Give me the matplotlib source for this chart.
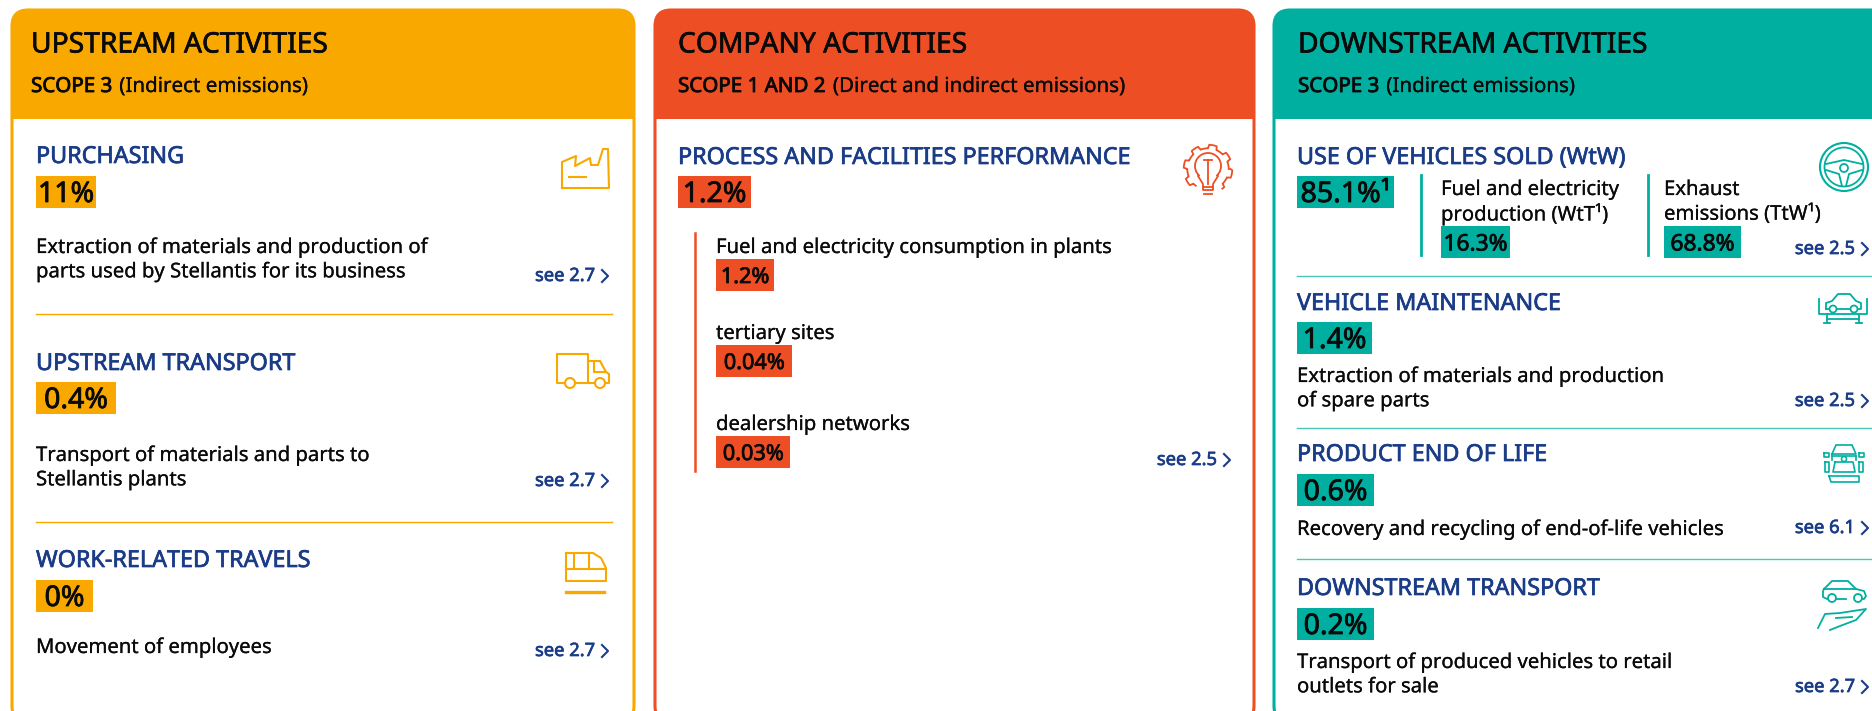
import numpy as np
import matplotlib
matplotlib.use('Agg')
import matplotlib.pyplot as plt
import matplotlib.patheffects as pe
from matplotlib.patches import FancyBboxPatch, Rectangle, Circle, Arc

plt.rcParams['font.family'] = ['Noto Sans', 'DejaVu Sans']

ORANGE = '#F9A800'
RED = '#EE4E24'
TEAL = '#00AFA0'
NAVY = '#1A3C87'
INK = '#0A0A0A'

# text and values
panel_titles = ['UPSTREAM ACTIVITIES', 'COMPANY ACTIVITIES', 'DOWNSTREAM ACTIVITIES']
scope_bold = ['SCOPE 3', 'SCOPE 1 AND 2', 'SCOPE 3']
scope_rest = ['(Indirect emissions)', '(Direct and indirect emissions)', '(Indirect emissions)']

up_titles = ['PURCHASING', 'UPSTREAM TRANSPORT', 'WORK-RELATED TRAVELS']
up_values = ['11%', '0.4%', '0%']
up_desc = ['Extraction of materials and production of\nparts used by Stellantis for its business',
           'Transport of materials and parts to\nStellantis plants',
           'Movement of employees']
up_refs = ['see 2.7', 'see 2.7', 'see 2.7']

co_title = 'PROCESS AND FACILITIES PERFORMANCE'
co_value = '1.2%'
co_subs = ['Fuel and electricity consumption in plants', 'tertiary sites', 'dealership networks']
co_sub_values = ['1.2%', '0.04%', '0.03%']
co_ref = 'see 2.5'

down_titles = ['USE OF VEHICLES SOLD (WtW)', 'VEHICLE MAINTENANCE', 'PRODUCT END OF LIFE', 'DOWNSTREAM TRANSPORT']
down_values = ['85.1%¹', '1.4%', '0.6%', '0.2%']
down_desc = ['', 'Extraction of materials and production\nof spare parts',
             'Recovery and recycling of end-of-life vehicles',
             'Transport of produced vehicles to retail\noutlets for sale']
down_refs = ['see 2.5', 'see 2.5', 'see 6.1', 'see 2.7']
use_subs = ['Fuel and electricity\nproduction (WtT¹)', 'Exhaust\nemissions (TtW¹)']
use_values = ['16.3%', '68.8%']

fig = plt.figure(figsize=(18.72, 7.11), dpi=100)
ax = fig.add_axes([0, 0, 1, 1])
ax.set_xlim(0, 1872)
ax.set_ylim(711, 0)
ax.axis('off')


def heavy(color, w):
    return [pe.withStroke(linewidth=w, foreground=color)]


def panel(x0, x1, color, title, bold, rest, off, bottom=722):
    box = FancyBboxPatch((x0, 10), x1 - x0, bottom - 10, boxstyle='round,pad=0,rounding_size=16',
                         fc='white', ec=color, lw=2.2, zorder=1)
    ax.add_patch(box)
    head = Rectangle((x0, 10), x1 - x0, 109, fc=color, ec='none', zorder=2)
    ax.add_patch(head)
    head.set_clip_path(box)
    ax.text(x0 + off, 45, title, fontsize=20.3, color=INK, va='center', zorder=3, path_effects=heavy(INK, 0.5))
    t = ax.text(x0 + off, 87, bold, fontsize=14.8, color=INK, va='center', zorder=3, path_effects=heavy(INK, 0.6))
    fig.canvas.draw()
    w = t.get_window_extent().width
    ax.text(x0 + off + w + 7, 87, rest, fontsize=14.8, color=INK, va='center', zorder=3,
            path_effects=heavy(INK, 0.2))


def heading(x, y, s):
    ax.text(x, y + 2, s, fontsize=16.8, color=NAVY, va='center', zorder=3, path_effects=heavy(NAVY, 0.5))


def tag(x0, x1, y0, s, color, size=20.5, h=32):
    ax.add_patch(Rectangle((x0, y0), x1 - x0, h, fc=color, ec='none', zorder=2))
    ax.text((x0 + x1) / 2, y0 + h / 2 + 2.5, s, fontsize=size, color=INK, ha='center', va='center',
            zorder=3, path_effects=heavy(INK, 0.55))


def desc(x, y, s):
    ax.text(x, y + 5, s, fontsize=14.6, color=INK, va='top', linespacing=1.29, zorder=3,
            path_effects=heavy(INK, 0.15))


def see(xr, y, s):
    ax.text(xr - 13, y, s, fontsize=13.2, color=NAVY, ha='right', va='center', zorder=3,
            path_effects=heavy(NAVY, 0.5))
    ax.plot([xr - 6, xr, xr - 6], [y - 6, y, y + 6], color=NAVY, lw=1.5, zorder=3)


def icon(x, y, strokes, color, lw=1.5):
    for pts in strokes:
        pts = np.array(pts, dtype=float)
        ax.plot(x + pts[:, 0], y + pts[:, 1], color=color, lw=lw, solid_joinstyle='round', zorder=3)


def ring(x, y, r, color, lw=1.5, fc='white'):
    ax.add_patch(Circle((x, y), r, fc=fc, ec=color, lw=lw, zorder=4))


# upstream panel
panel(12, 634, ORANGE, panel_titles[0], scope_bold[0], scope_rest[0], 19)
up_y = [155, 362, 559]
up_tag_y = [176, 382, 580]
up_tag_x = [96, 116, 93]
up_desc_y = [233, 441, 633]
up_see_y = [276, 481, 651]
for i in range(3):
    heading(36, up_y[i], up_titles[i])
    tag(36, up_tag_x[i], up_tag_y[i], up_values[i], ORANGE)
    desc(36, up_desc_y[i], up_desc[i])
    see(608, up_see_y[i], up_refs[i])
for y in [314, 522]:
    ax.plot([36, 612], [y, y], color=ORANGE, lw=1, zorder=2)

# company panel
panel(655, 1254, RED, panel_titles[1], scope_bold[1], scope_rest[1], 23)
heading(678, 156, co_title)
tag(678, 751, 176, co_value, RED)
ax.plot([695, 695], [233, 471], color=RED, lw=1.8, zorder=2)
sub_y = [248, 334, 425]
sub_tag_y = [259, 345, 436]
sub_tag_x = [774, 792, 790]
for i in range(3):
    ax.text(716, sub_y[i], co_subs[i], fontsize=14.6, color=INK, va='center', zorder=3,
            path_effects=heavy(INK, 0.15))
    tag(716, sub_tag_x[i], sub_tag_y[i], co_sub_values[i], RED, size=15.6)
see(1230, 460, co_ref)

# downstream panel
panel(1274, 1890, TEAL, panel_titles[2], scope_bold[2], scope_rest[2], 24)
dn_y = [156, 302, 453, 587]
dn_tag_y = [176, 322, 474, 608]
dn_tag_x = [1394, 1372, 1374, 1374]
dn_desc_y = [0, 362, 515, 648]
dn_see_y = [249, 401, 528, 687]
for i in range(4):
    heading(1297, dn_y[i], down_titles[i])
    tag(1297, dn_tag_x[i], dn_tag_y[i], down_values[i], TEAL)
    if down_desc[i]:
        desc(1297, dn_desc_y[i], down_desc[i])
    see(1868, dn_see_y[i], down_refs[i])
for y in [276, 428, 559]:
    ax.plot([1297, 1872], [y, y], color=TEAL, lw=1, alpha=0.7, zorder=2)
use_line_x = [1421, 1648]
use_text_x = [1441, 1664]
use_tag_x = [1510, 1741]
for i in range(2):
    ax.plot([use_line_x[i]] * 2, [175, 255], color=TEAL, lw=2, zorder=2)
    # two separate lines, the superscript would stretch the line pitch
    for j, line in enumerate(use_subs[i].split('\n')):
        ax.text(use_text_x[i], 190 + 24 * j, line, fontsize=14.6, color=INK, va='center', zorder=3,
                path_effects=heavy(INK, 0.15))
    tag(use_text_x[i], use_tag_x[i], 226, use_values[i], TEAL, size=16.4)

# factory
icon(561, 148, [[(1, 40), (1, 14), (15, 8), (14, 18), (29, 10), (30, 17), (37, 17), (42, 1), (47, 1), (48, 40), (1, 40)],
                [(8, 29), (25, 29)]], ORANGE)
# truck
icon(556, 353, [[(8, 30), (1, 30), (1, 1), (32, 1), (32, 30), (20, 30)],
                [(32, 8), (44, 8), (50, 19), (53, 21), (53, 30), (48, 30)],
                [(32, 30), (38, 30)], [(38, 8), (38, 19), (50, 19)]], ORANGE)
ring(570, 383, 5, ORANGE)
ring(600, 383, 5, ORANGE)
# train
icon(565, 552, [[(1, 1), (28, 1), (36, 6), (41, 16), (41, 29), (1, 29), (1, 1)],
                [(1, 17), (40, 17)], [(9, 1), (9, 17)], [(24, 1), (24, 17)]], ORANGE)
ax.plot([566, 604], [592, 592], color=ORANGE, lw=2.4, zorder=3)

# gear and bulb
th = np.deg2rad(np.arange(0, 361, 3))
gear_r = 22.5 + 1.8 * np.sign(np.sin(8 * th))
gx, gy = 1208 + gear_r * np.cos(th), 169 + gear_r * np.sin(th)
mask = np.abs(th - np.pi / 2) > 0.6
ax.plot(np.where(mask, gx, np.nan), np.where(mask, gy, np.nan), color=RED, lw=1.3, zorder=3)
ax.add_patch(Arc((1208, 166), 26, 26, theta1=130, theta2=50, ec=RED, lw=1.3, zorder=3))
icon(1198, 176, [[(0, 0), (5, 8), (5, 14), (15, 14), (15, 8), (20, 0)], [(5, 11), (15, 11)], [(6, 18), (14, 18)],
                 [(6, -16), (14, -16)], [(10, -16), (10, 8)]], RED, lw=1.3)

# steering wheel
ax.add_patch(Circle((1844, 167), 24, fc='none', ec=TEAL, lw=1.5, zorder=3))
ax.add_patch(Circle((1844, 167), 19.5, fc='none', ec=TEAL, lw=1.3, zorder=3))
ring(1844, 168, 4, TEAL, lw=1.3)
icon(1825, 150, [[(1, 14), (19, 10), (37, 14)], [(1, 20), (14, 24), (17, 36)], [(37, 20), (24, 24), (21, 36)]], TEAL, lw=1.3)

# car lift
icon(1819, 293, [[(0, 6), (0, 21), (48, 21), (48, 6)], [(8, 21), (8, 30)], [(40, 21), (40, 30)],
                 [(8, 26), (40, 26)], [(5, 30), (11, 30)], [(37, 30), (43, 30)],
                 [(7, 16), (7, 10), (13, 8), (19, 1), (31, 1), (37, 8), (42, 10), (42, 16), (7, 16)]], TEAL, lw=1.3)
ring(1833, 309, 3.5, TEAL, lw=1.3)
ring(1854, 309, 3.5, TEAL, lw=1.3)

# exploded car
icon(1824, 444, [[(8, 10), (12, 1), (28, 1), (32, 10), (8, 10)], [(8, 12), (32, 12)], [(8, 12), (8, 16)], [(32, 12), (32, 16)],
                 [(11, 18), (29, 18), (31, 28), (9, 28), (11, 18)], [(5, 32), (35, 32), (35, 38), (7, 38), (5, 32)],
                 [(0, 9), (5, 9), (5, 13), (0, 13), (0, 9)], [(35, 9), (40, 9), (40, 13), (35, 13), (35, 9)],
                 [(1, 18), (5, 18), (5, 28), (1, 28), (1, 18)], [(35, 18), (39, 18), (39, 28), (35, 28), (35, 18)]], TEAL, lw=1.2)
ring(1844, 459, 2.5, TEAL, lw=1.1)

# car in hand
icon(1822, 580, [[(2, 9), (10, 1), (26, 1), (34, 9), (42, 11), (44, 16), (42, 19), (36, 19)],
                 [(24, 19), (15, 19)], [(5, 19), (1, 17), (1, 11), (2, 9)], [(2, 9), (34, 9)]], TEAL, lw=1.3)
ring(1832, 598, 4, TEAL, lw=1.3)
ring(1858, 598, 4, TEAL, lw=1.3)
icon(1818, 608, [[(0, 20), (7, 6), (22, 5), (48, 1), (38, 12), (22, 18), (12, 22)], [(18, 10), (34, 9)]], TEAL, lw=1.3)

fig.savefig('out.png', dpi=100)
